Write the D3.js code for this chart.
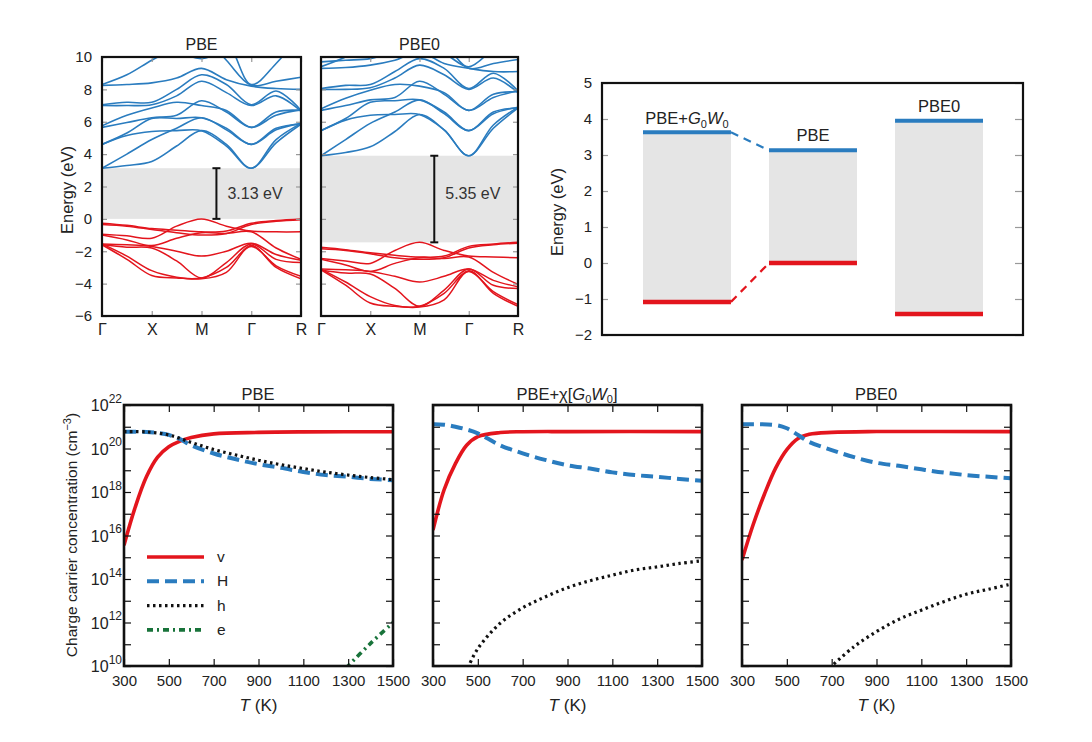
<!DOCTYPE html>
<html>
<head>
<meta charset="utf-8">
<script src="https://cdn.jsdelivr.net/npm/d3@7"></script>
<style>
body { margin: 0; background: #fff; }
svg { font-family: "Liberation Sans", Arial, sans-serif; }
</style>
</head>
<body>
<div id="chart"></div>
<script>
// ---- band structure data (eV, sampled at k = 0, 0.5, ... 4 along G-X-M-G-R) ----
var kGrid = [0, 0.5, 1, 1.5, 2, 2.5, 3, 3.5, 4];
var kTicks = [0, 1, 2, 3, 4];
var kLabels = ["Γ", "X", "M", "Γ", "R"];
var energyTicks = [-6, -4, -2, 0, 2, 4, 6, 8, 10];

var pbeCond = [
	[3.13, 3.3, 3.55, 4.5, 5.45, 4.6, 3.13, 4.9, 5.9],
	[4.6, 5.15, 5.4, 5.45, 5.45, 4.5, 3.13, 4.7, 5.85],
	[3.13, 4.0, 4.9, 5.6, 6.25, 5.5, 4.6, 5.5, 5.9],
	[4.6, 5.3, 6.2, 6.2, 6.25, 5.6, 4.6, 5.6, 5.85],
	[5.65, 5.95, 6.25, 6.4, 7.3, 6.6, 5.65, 6.4, 6.75],
	[5.75, 6.4, 6.85, 7.2, 7.0, 6.7, 5.65, 6.6, 6.7],
	[7.0, 7.0, 7.05, 7.6, 8.5, 7.8, 7.0, 7.6, 6.65],
	[7.05, 7.2, 7.2, 8.0, 8.9, 8.3, 7.05, 7.9, 6.7],
	[8.25, 8.3, 8.4, 8.7, 9.3, 8.6, 8.2, 8.05, 8.0],
	[8.3, 8.9, 9.8, 10.6, 11.5, 11.5, 11.5, 11.5, 11.5],
	[11.5, 11.5, 11.5, 10.4, 9.9, 10.5, 11.5, 11.5, 11.5],
	[11.5, 11.5, 11.5, 11.5, 11.5, 9.8, 8.25, 8.5, 8.75],
	[11.5, 11.5, 11.5, 11.5, 11.5, 11.0, 8.3, 9.6, 11.5]
];
var pbeVal = [
	[-0.27, -0.4, -0.6, -0.7, -0.8, -0.75, -0.27, -0.1, 0.0],
	[-0.35, -0.45, -0.65, -0.85, -1.0, -0.9, -0.35, -0.15, -0.05],
	[-0.95, -1.05, -1.2, -0.45, 0.0, -0.45, -0.75, -0.8, -0.8],
	[-1.0, -1.3, -1.65, -1.2, -0.85, -0.9, -0.8, -1.8, -2.5],
	[-1.55, -1.6, -1.7, -2.0, -2.3, -2.0, -1.5, -2.2, -2.55],
	[-1.6, -1.75, -1.8, -2.6, -3.65, -2.7, -1.55, -2.5, -2.7],
	[-1.6, -2.5, -3.5, -3.65, -3.65, -3.0, -1.7, -2.9, -3.55],
	[-1.55, -2.3, -3.2, -3.6, -3.7, -3.3, -1.65, -3.0, -3.7]
];
var pbe0Cond = [
	[3.9, 4.1, 4.45, 5.4, 6.45, 5.5, 3.9, 5.8, 6.9],
	[5.45, 6.1, 6.4, 6.45, 6.45, 5.5, 3.9, 5.6, 6.85],
	[3.9, 4.9, 5.9, 6.6, 7.35, 6.5, 5.45, 6.5, 6.9],
	[5.45, 6.2, 7.2, 7.3, 7.35, 6.6, 5.45, 6.6, 6.85],
	[6.7, 7.0, 7.35, 7.5, 8.5, 7.7, 6.7, 7.5, 7.9],
	[6.8, 7.45, 7.95, 8.3, 8.2, 7.8, 6.7, 7.7, 7.85],
	[8.0, 8.0, 8.1, 8.7, 9.5, 8.9, 8.0, 8.7, 7.8],
	[8.05, 8.25, 8.3, 9.1, 9.9, 9.3, 8.05, 9.0, 7.9],
	[9.3, 9.35, 9.5, 9.8, 10.3, 9.6, 9.3, 9.1, 9.1],
	[9.4, 10.0, 10.8, 11.5, 11.5, 11.5, 11.5, 11.5, 11.5],
	[11.5, 11.5, 11.5, 11.4, 10.9, 11.5, 11.5, 11.5, 11.5],
	[11.5, 11.5, 11.5, 11.5, 11.5, 10.8, 9.3, 9.6, 9.85],
	[9.7, 9.8, 9.9, 10.3, 10.5, 10.2, 9.4, 10.5, 11.5]
];
var pbe0Val = [
	[-1.75, -1.9, -2.1, -2.25, -2.35, -2.3, -1.7, -1.55, -1.45],
	[-1.85, -1.95, -2.15, -2.4, -2.5, -2.4, -1.8, -1.6, -1.5],
	[-2.45, -2.6, -2.75, -1.95, -1.45, -1.95, -2.3, -2.35, -2.4],
	[-2.5, -2.85, -3.25, -2.75, -2.4, -2.45, -2.35, -3.3, -4.05],
	[-3.1, -3.15, -3.25, -3.55, -3.9, -3.55, -3.1, -3.8, -4.2],
	[-3.15, -3.35, -3.4, -4.3, -5.4, -4.4, -3.1, -4.1, -4.3],
	[-3.15, -4.1, -5.2, -5.4, -5.4, -4.6, -3.25, -4.5, -5.3],
	[-3.1, -3.9, -4.8, -5.35, -5.45, -5.0, -3.2, -4.6, -5.4]
];
var pbeGap = [0, 3.13];
var pbe0Gap = [-1.45, 3.9];

// ---- band edge diagram ----
var methods = ["PBE+G0W0", "PBE", "PBE0"];
var cbm = [3.63, 3.13, 3.95];
var vbm = [-1.08, 0.0, -1.42];
var levelTicks = [-2, -1, 0, 1, 2, 3, 4, 5];

// ---- carrier concentrations (cm^-3) vs T (K) ----
var tempTicks = [300, 500, 700, 900, 1100, 1300, 1500];
var concTicks = [1e10, 1e12, 1e14, 1e16, 1e18, 1e20, 1e22];
var concMinor = [1e11, 1e13, 1e15, 1e17, 1e19, 1e21];

var pbeVTemp = [300, 350, 400, 450, 500, 550, 600, 700, 900, 1100, 1500];
var pbeV = [3.6e15, 2.0e17, 5.0e18, 4.0e19, 1.2e20, 2.2e20, 3.2e20, 4.7e20, 5.5e20, 5.8e20, 5.9e20];
var pbeHTemp = [300, 400, 450, 500, 550, 600, 700, 800, 900, 1000, 1100, 1200, 1300, 1400, 1500];
var pbeH = [5.9e20, 5.8e20, 5.2e20, 4.2e20, 2.7e20, 1.4e20, 5.9e19, 3.2e19, 1.9e19, 1.3e19, 8.3e18, 6.0e18, 5.0e18, 4.0e18, 3.5e18];
var pbeHoleTemp = [300, 400, 500, 600, 700, 800, 900, 1000, 1100, 1200, 1300, 1400, 1500];
var pbeHole = [6.0e20, 5.8e20, 4.2e20, 1.9e20, 9.0e19, 5.0e19, 2.9e19, 1.8e19, 1.2e19, 8.2e18, 6.0e18, 4.6e18, 3.7e18];
var pbeETemp = [1290, 1400, 1500];
var pbeE = [8e9, 1.1e11, 1.0e12];

var gwVTemp = [300, 350, 400, 450, 500, 600, 700, 900, 1500];
var gwV = [1.8e16, 1.3e18, 2.0e19, 1.4e20, 3.5e20, 5.4e20, 5.9e20, 6.0e20, 6.0e20];
var gwHTemp = [300, 350, 400, 450, 500, 600, 700, 800, 900, 1000, 1100, 1200, 1300, 1400, 1500];
var gwH = [1.3e21, 1.25e21, 1.0e21, 7.5e20, 5.0e20, 1.4e20, 6.0e19, 3.0e19, 1.7e19, 1.2e19, 8.0e18, 6.0e18, 5.0e18, 4.0e18, 3.3e18];
var gwHoleTemp = [455, 500, 600, 700, 800, 900, 1000, 1100, 1200, 1300, 1400, 1500];
var gwHole = [8e9, 6.3e10, 9.3e11, 4.7e12, 1.5e13, 4.0e13, 8.3e13, 1.5e14, 2.6e14, 3.6e14, 5.2e14, 6.8e14];

var pbe0VTemp = [300, 350, 400, 450, 500, 550, 600, 700, 900, 1500];
var pbe0V = [7.4e14, 3.2e16, 7.9e17, 1.26e19, 8.9e19, 2.9e20, 4.5e20, 5.5e20, 6.0e20, 6.0e20];
var pbe0HTemp = [300, 450, 500, 550, 600, 700, 800, 900, 1000, 1100, 1200, 1300, 1400, 1500];
var pbe0H = [1.3e21, 1.2e21, 8.5e20, 4.2e20, 2.0e20, 8.5e19, 4.0e19, 2.2e19, 1.6e19, 1.1e19, 7.8e18, 6.0e18, 5.0e18, 4.3e18];
var pbe0HoleTemp = [690, 800, 900, 1000, 1100, 1200, 1300, 1400, 1500];
var pbe0Hole = [8e9, 7.8e10, 3.8e11, 1.4e12, 3.7e12, 9.1e12, 2.0e13, 3.4e13, 5.8e13];

var blue = "#2a7cbf", red = "#e3151d";

var svg = d3.select("#chart").append("svg")
	.attr("width", 1092)
	.attr("height", 742);

var clipId = 0;
function addClip(x, y, w, h) {
	clipId++;
	svg.append("clipPath").attr("id", "clip" + clipId)
		.append("rect").attr("x", x).attr("y", y).attr("width", w).attr("height", h);
	return "url(#clip" + clipId + ")";
}

function greyTicks(g) {
	g.select(".domain").remove();
	g.selectAll(".tick line").attr("stroke", "#999").attr("stroke-width", 1.2);
}

// ---- band structure panel ----
function bandPanel(left, right, title, cond, val, gap, gapLabel, showY) {
	var top = 57, bottom = 316;
	var x = d3.scaleLinear().domain([0, 4]).range([left, right]);
	var y = d3.scaleLinear().domain([-6, 10]).range([bottom, top]);

	// grey gap region
	svg.append("rect")
		.attr("x", left).attr("width", right - left)
		.attr("y", y(gap[1])).attr("height", y(gap[0]) - y(gap[1]))
		.attr("fill", "#e5e5e5");

	var line = d3.line()
		.x(function(d, i) { return x(kGrid[i]); })
		.y(function(d) { return y(d); })
		.curve(d3.curveCatmullRom.alpha(0.5));

	var g = svg.append("g").attr("clip-path", addClip(left, top, right - left, bottom - top));
	g.selectAll(".cb").data(cond).enter().append("path")
		.attr("d", line).attr("fill", "none").attr("stroke", blue).attr("stroke-width", 1.6);
	g.selectAll(".vb").data(val).enter().append("path")
		.attr("d", line).attr("fill", "none").attr("stroke", red).attr("stroke-width", 1.5);

	// gap marker
	var bx = x(2.3);
	svg.append("line").attr("x1", bx).attr("x2", bx).attr("y1", y(gap[0])).attr("y2", y(gap[1]))
		.attr("stroke", "#111").attr("stroke-width", 2);
	gap.forEach(function(e) {
		svg.append("line").attr("x1", bx - 4).attr("x2", bx + 4).attr("y1", y(e)).attr("y2", y(e))
			.attr("stroke", "#111").attr("stroke-width", 2);
	});
	svg.append("text").attr("x", bx + 11).attr("y", y(1.6) + 6)
		.attr("font-size", 16).attr("fill", "#333").text(gapLabel);

	// axes, ticks pointing inwards
	svg.append("g").attr("transform", "translate(" + left + ",0)")
		.call(d3.axisLeft(y).tickValues(energyTicks).tickSize(-5).tickPadding(10)
			.tickFormat(showY ? d3.format("d") : ""))
		.call(greyTicks)
		.selectAll("text").attr("font-size", 15).attr("fill", "#222");
	svg.append("g").attr("transform", "translate(" + right + ",0)")
		.call(d3.axisRight(y).tickValues(energyTicks).tickSize(-5).tickFormat(""))
		.call(greyTicks);
	svg.append("g").attr("transform", "translate(0," + bottom + ")")
		.call(d3.axisBottom(x).tickValues(kTicks).tickSize(-5).tickPadding(8)
			.tickFormat(function(d, i) { return kLabels[i]; }))
		.call(greyTicks)
		.selectAll("text").attr("font-size", 16).attr("fill", "#222");
	svg.append("g").attr("transform", "translate(0," + top + ")")
		.call(d3.axisTop(x).tickValues(kTicks).tickSize(-5).tickFormat(""))
		.call(greyTicks);

	svg.append("rect").attr("x", left).attr("y", top)
		.attr("width", right - left).attr("height", bottom - top)
		.attr("fill", "none").attr("stroke", "#111").attr("stroke-width", 2.2);

	svg.append("text").attr("x", (left + right) / 2).attr("y", 50)
		.attr("text-anchor", "middle").attr("font-size", 16).attr("fill", "#222").text(title);
}

bandPanel(102, 301, "PBE", pbeCond, pbeVal, pbeGap, "3.13 eV", true);
bandPanel(321, 518, "PBE0", pbe0Cond, pbe0Val, pbe0Gap, "5.35 eV", false);

svg.append("text")
	.attr("transform", "translate(73,190) rotate(-90)")
	.attr("text-anchor", "middle").attr("font-size", 16.5).attr("fill", "#222")
	.text("Energy (eV)");

// ---- band edge diagram ----
(function() {
	var left = 602, right = 1023, top = 83, bottom = 335;
	var y = d3.scaleLinear().domain([-2, 5]).range([bottom, top]);
	var x = d3.scaleBand().domain(methods).range([643, 983]).paddingInner(0.302);

	methods.forEach(function(m, i) {
		svg.append("rect").attr("x", x(m)).attr("width", x.bandwidth())
			.attr("y", y(cbm[i])).attr("height", y(vbm[i]) - y(cbm[i]))
			.attr("fill", "#e5e5e5");
		svg.append("line").attr("x1", x(m)).attr("x2", x(m) + x.bandwidth())
			.attr("y1", y(cbm[i])).attr("y2", y(cbm[i]))
			.attr("stroke", blue).attr("stroke-width", 4);
		svg.append("line").attr("x1", x(m)).attr("x2", x(m) + x.bandwidth())
			.attr("y1", y(vbm[i])).attr("y2", y(vbm[i]))
			.attr("stroke", red).attr("stroke-width", 4.5);
	});

	// dashed connectors between PBE+G0W0 and PBE
	var xa = x(methods[0]) + x.bandwidth(), xb = x(methods[1]);
	svg.append("line").attr("x1", xa).attr("x2", xb).attr("y1", y(cbm[0])).attr("y2", y(cbm[1]))
		.attr("stroke", blue).attr("stroke-width", 2.2).attr("stroke-dasharray", "8,6");
	svg.append("line").attr("x1", xa).attr("x2", xb).attr("y1", y(vbm[0])).attr("y2", y(vbm[1]))
		.attr("stroke", red).attr("stroke-width", 2.2).attr("stroke-dasharray", "8,6");

	svg.append("g").attr("transform", "translate(" + left + ",0)")
		.call(d3.axisLeft(y).tickValues(levelTicks).tickSize(-6).tickPadding(10).tickFormat(d3.format("d")))
		.call(greyTicks)
		.selectAll("text").attr("font-size", 15).attr("fill", "#222");
	svg.append("g").attr("transform", "translate(" + right + ",0)")
		.call(d3.axisRight(y).tickValues(levelTicks).tickSize(-8).tickFormat(""))
		.call(greyTicks);

	svg.append("rect").attr("x", left).attr("y", top)
		.attr("width", right - left).attr("height", bottom - top)
		.attr("fill", "none").attr("stroke", "#111").attr("stroke-width", 2.2);

	// method labels
	var t0 = svg.append("text").attr("x", x(methods[0]) + x.bandwidth() / 2).attr("y", y(cbm[0]) - 8)
		.attr("text-anchor", "middle").attr("font-size", 16.5).attr("fill", "#222");
	t0.append("tspan").text("PBE+");
	t0.append("tspan").attr("font-style", "italic").text("G");
	t0.append("tspan").attr("font-size", 11).attr("dy", 4).text("0");
	t0.append("tspan").attr("font-style", "italic").attr("dy", -4).text("W");
	t0.append("tspan").attr("font-size", 11).attr("dy", 4).text("0");
	svg.append("text").attr("x", x(methods[1]) + x.bandwidth() / 2).attr("y", y(cbm[1]) - 9)
		.attr("text-anchor", "middle").attr("font-size", 16.5).attr("fill", "#222").text("PBE");
	svg.append("text").attr("x", x(methods[2]) + x.bandwidth() / 2).attr("y", y(cbm[2]) - 9)
		.attr("text-anchor", "middle").attr("font-size", 16.5).attr("fill", "#222").text("PBE0");

	svg.append("text")
		.attr("transform", "translate(563,212) rotate(-90)")
		.attr("text-anchor", "middle").attr("font-size", 16.5).attr("fill", "#222")
		.text("Energy (eV)");
})();

// ---- carrier concentration panels ----
var styles = {
	v: { color: red, width: 3.6, dash: null },
	H: { color: blue, width: 4, dash: "12,6" },
	h: { color: "#111", width: 3.2, dash: "2.5,3.5" },
	e: { color: "#18733a", width: 3.6, dash: "6,4,2,4" }
};

function carrierPanel(left, series, showY) {
	var width = 269, top = 405, bottom = 666;
	var x = d3.scaleLinear().domain([300, 1500]).range([left, left + width]);
	var y = d3.scaleLog().domain([1e10, 1e22]).range([bottom, top]);

	var g = svg.append("g").attr("clip-path", addClip(left, top, width, bottom - top));
	series.forEach(function(s) {
		var pts = s.t.map(function(t, i) { return [t, s.c[i]]; });
		var st = styles[s.key];
		g.append("path").datum(pts)
			.attr("d", d3.line()
				.x(function(d) { return x(d[0]); })
				.y(function(d) { return y(d[1]); })
				.curve(d3.curveCatmullRom.alpha(0.5)))
			.attr("fill", "none").attr("stroke", st.color).attr("stroke-width", st.width)
			.attr("stroke-dasharray", st.dash);
	});

	var allTicks = concTicks.concat(concMinor);
	var yl = svg.append("g").attr("transform", "translate(" + left + ",0)")
		.call(d3.axisLeft(y).tickValues(concTicks).tickSize(-7).tickFormat(""))
		.call(greyTicks);
	yl.selectAll(".tick line").attr("stroke", "#111");
	svg.append("g").attr("transform", "translate(" + left + ",0)")
		.call(d3.axisLeft(y).tickValues(concMinor).tickSize(-7).tickFormat(""))
		.call(greyTicks).selectAll(".tick line").attr("stroke", "#111");
	svg.append("g").attr("transform", "translate(" + (left + width) + ",0)")
		.call(d3.axisRight(y).tickValues(allTicks).tickSize(-7).tickFormat(""))
		.call(greyTicks).selectAll(".tick line").attr("stroke", "#111");

	if (showY) {
		yl.selectAll(".tick").append("text")
			.attr("x", -2).attr("dy", "0.35em").attr("text-anchor", "end")
			.attr("font-size", 16).attr("fill", "#222")
			.each(function(d) {
				var t = d3.select(this);
				t.append("tspan").text("10");
				t.append("tspan").attr("font-size", 12).attr("dy", "-0.7em")
					.text(Math.round(Math.log10(d)));
			});
	}

	svg.append("g").attr("transform", "translate(0," + bottom + ")")
		.call(d3.axisBottom(x).tickValues(tempTicks).tickSize(-7).tickPadding(9).tickFormat(d3.format("d")))
		.call(greyTicks)
		.call(function(a) { a.selectAll(".tick line").attr("stroke", "#111"); })
		.selectAll("text").attr("font-size", 15).attr("fill", "#222");
	svg.append("g").attr("transform", "translate(0," + top + ")")
		.call(d3.axisTop(x).tickValues(tempTicks).tickSize(-7).tickFormat(""))
		.call(greyTicks).selectAll(".tick line").attr("stroke", "#111");

	svg.append("rect").attr("x", left).attr("y", top)
		.attr("width", width).attr("height", bottom - top)
		.attr("fill", "none").attr("stroke", "#111").attr("stroke-width", 2.6);

	var xl = svg.append("text").attr("x", left + width / 2).attr("y", 711)
		.attr("text-anchor", "middle").attr("font-size", 17).attr("fill", "#222");
	xl.append("tspan").attr("font-style", "italic").text("T");
	xl.append("tspan").text(" (K)");
}

carrierPanel(124, [
	{ key: "v", t: pbeVTemp, c: pbeV },
	{ key: "H", t: pbeHTemp, c: pbeH },
	{ key: "h", t: pbeHoleTemp, c: pbeHole },
	{ key: "e", t: pbeETemp, c: pbeE }
], true);
carrierPanel(433, [
	{ key: "v", t: gwVTemp, c: gwV },
	{ key: "H", t: gwHTemp, c: gwH },
	{ key: "h", t: gwHoleTemp, c: gwHole }
], false);
carrierPanel(742, [
	{ key: "v", t: pbe0VTemp, c: pbe0V },
	{ key: "H", t: pbe0HTemp, c: pbe0H },
	{ key: "h", t: pbe0HoleTemp, c: pbe0Hole }
], false);

// panel titles
svg.append("text").attr("x", 258).attr("y", 400).attr("text-anchor", "middle")
	.attr("font-size", 16.5).attr("fill", "#222").text("PBE");
var tt = svg.append("text").attr("x", 567).attr("y", 400).attr("text-anchor", "middle")
	.attr("font-size", 16.5).attr("fill", "#222");
tt.append("tspan").text("PBE+χ[");
tt.append("tspan").attr("font-style", "italic").text("G");
tt.append("tspan").attr("font-size", 11).attr("dy", 3).text("0");
tt.append("tspan").attr("font-style", "italic").attr("dy", -3).text("W");
tt.append("tspan").attr("font-size", 11).attr("dy", 3).text("0");
tt.append("tspan").attr("dy", -3).text("]");
svg.append("text").attr("x", 876).attr("y", 400).attr("text-anchor", "middle")
	.attr("font-size", 16.5).attr("fill", "#222").text("PBE0");

var yt = svg.append("text")
	.attr("transform", "translate(77,535) rotate(-90)")
	.attr("text-anchor", "middle").attr("font-size", 15.5).attr("fill", "#222");
yt.append("tspan").text("Charge carrier concentration (cm");
yt.append("tspan").attr("font-size", 11).attr("dy", -6).text("−3");
yt.append("tspan").attr("dy", 6).text(")");

// legend
var legendKeys = ["v", "H", "h", "e"];
legendKeys.forEach(function(k, i) {
	var ly = 557 + i * 24.3;
	var st = styles[k];
	svg.append("line").attr("x1", 147).attr("x2", 204).attr("y1", ly).attr("y2", ly)
		.attr("stroke", st.color).attr("stroke-width", st.width).attr("stroke-dasharray", st.dash);
	svg.append("text").attr("x", 217).attr("y", ly + 5).attr("font-size", 15.5).attr("fill", "#222").text(k);
});
</script>
</body>
</html>
